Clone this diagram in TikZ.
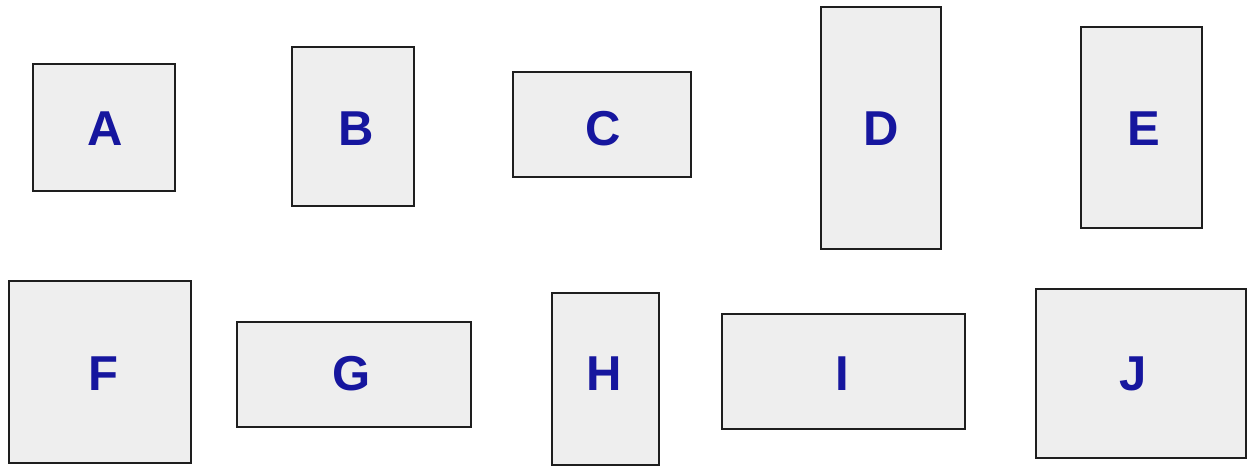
\documentclass[tikz,border=0pt]{standalone}
\usepackage{fontspec}
\setmainfont{Liberation Sans}
\usepackage{xcolor}
\definecolor{boxfill}{RGB}{238,238,238}
\definecolor{boxtext}{RGB}{22,22,158}
\definecolor{boxline}{RGB}{30,30,30}
\usetikzlibrary{positioning}
\begin{document}
\begin{tikzpicture}[x=1pt, y=-1pt,
    blk/.style={rectangle, draw=boxline, line width=1.6pt, fill=boxfill, inner sep=0pt},
    lbl/.style={inner sep=0pt, text=boxtext, font=\fontsize{49}{49}\selectfont\bfseries}]
            \useasboundingbox (0,0) rectangle (1247,466);
            % top row
            \node[blk, minimum width=142pt, minimum height=127pt] at (104, 127.5)  (a) {};
            \node[blk, minimum width=122pt, minimum height=159pt] at (353, 126.5)  (b) {};
            \node[blk, minimum width=178pt, minimum height=105pt] at (602, 124.5)  (c) {};
            \node[blk, minimum width=120pt, minimum height=242pt] at (881, 128)    (d) {};
            \node[blk, minimum width=121pt, minimum height=201pt] at (1141.5, 127.5) (e) {};
            % bottom row
            \node[blk, minimum width=182pt, minimum height=182pt] at (100, 372)    (f) {};
            \node[blk, minimum width=234pt, minimum height=105pt] at (354, 374.5)  (g) {};
            \node[blk, minimum width=107pt, minimum height=172pt] at (605.5, 379)  (h) {};
            \node[blk, minimum width=243pt, minimum height=115pt] at (843.5, 371.5) (i) {};
            \node[blk, minimum width=210pt, minimum height=169pt] at (1141, 373.5) (j) {};
            % labels
            \node[lbl] at (105.5, 128.5) (la) {A};
            \node[lbl] at (356, 128.5)   (lb) {B};
            \node[lbl] at (603, 128.5)   (lc) {C};
            \node[lbl] at (881, 128.5)   (ld) {D};
            \node[lbl] at (1144, 128.5)  (le) {E};
            \node[lbl] at (103, 373.5)   (lf) {F};
            \node[lbl] at (351.5, 373.5) (lg) {G};
            \node[lbl] at (604, 373.5)   (lh) {H};
            \node[lbl] at (842, 373.5)   (li) {I};
            \node[lbl] at (1133, 373.5)  (lj) {J};
        \end{tikzpicture}
\end{document}
